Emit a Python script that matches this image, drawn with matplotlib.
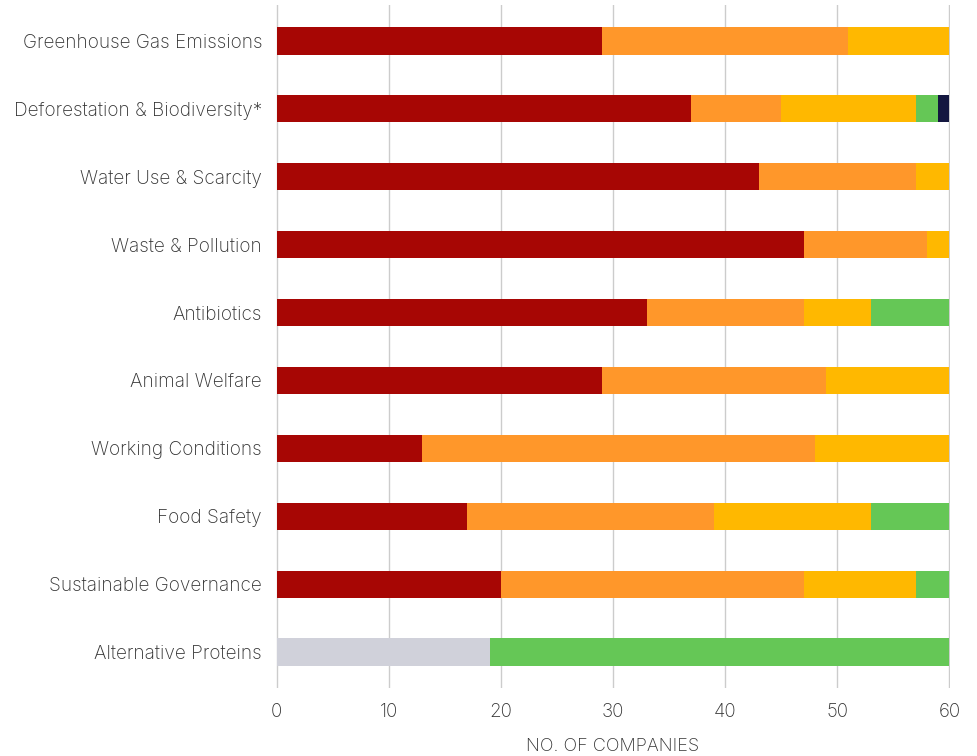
import matplotlib

matplotlib.use("Agg")
import matplotlib.pyplot as plt
import numpy as np

plt.rcParams["font.family"] = ["Inter", "DejaVu Sans"]

categories = [
    "Greenhouse Gas Emissions",
    "Deforestation & Biodiversity*",
    "Water Use & Scarcity",
    "Waste & Pollution",
    "Antibiotics",
    "Animal Welfare",
    "Working Conditions",
    "Food Safety",
    "Sustainable Governance",
    "Alternative Proteins",
]

# segment counts per category, left to right
high_risk = [29, 37, 43, 47, 33, 29, 13, 17, 20, 0]
medium_risk = [22, 8, 14, 11, 14, 20, 35, 22, 27, 0]
low_risk = [9, 12, 3, 2, 6, 11, 12, 14, 10, 0]
best_practice = [0, 2, 0, 0, 7, 0, 0, 7, 3, 41]
navy_seg = [0, 1, 0, 0, 0, 0, 0, 0, 0, 0]
not_rated = [0, 0, 0, 0, 0, 0, 0, 0, 0, 19]

x_ticks = [0, 10, 20, 30, 40, 50, 60]

# draw order matters: grey sits at the start of the Alternative Proteins bar
segments = [
    (not_rated, "#D0D1DA"),
    (high_risk, "#A70604"),
    (medium_risk, "#FF972A"),
    (low_risk, "#FFB800"),
    (best_practice, "#65C756"),
    (navy_seg, "#141740"),
]

fig = plt.figure(figsize=(9.77, 7.56), dpi=100)
ax = fig.add_axes([0.2825, 0.09, 0.6898, 0.9034])

y = np.arange(len(categories))
left = np.zeros(len(categories))
for vals, color in segments:
    vals = np.array(vals, dtype=float)
    ax.barh(y, vals, left=left, height=0.4, color=color, zorder=3, linewidth=0)
    left += vals

ax.set_ylim(len(categories) - 0.47, -0.53)
ax.set_xlim(-0.05, 60.05)
ax.set_xticks(x_ticks)
ax.set_xticklabels([str(t) for t in x_ticks], fontsize=13.5, color="#333333", fontweight="light")
ax.set_yticks(y)
ax.set_yticklabels(categories, fontsize=13.7, color="#333333", fontweight="light")
ax.tick_params(axis="both", length=0)
ax.tick_params(axis="x", pad=11)
ax.tick_params(axis="y", pad=10)
ax.grid(axis="x", color="#CCCCCC", linewidth=1, zorder=0)
for s in ax.spines.values():
    s.set_visible(False)
ax.set_xlabel("NO. OF COMPANIES", fontsize=13, color="#333333", fontweight="light", labelpad=12)

fig.savefig("out.png", dpi=100)
